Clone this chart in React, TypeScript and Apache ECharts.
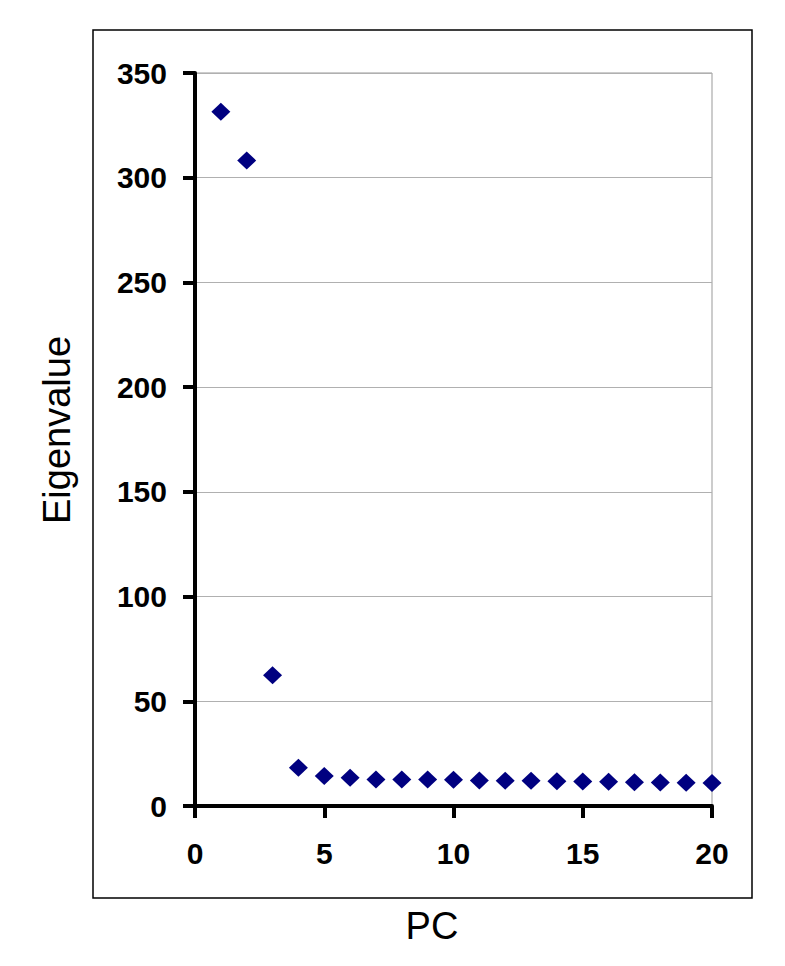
import React, { useEffect, useRef } from "react";
import * as echarts from "echarts";

const pcs = [1, 2, 3, 4, 5, 6, 7, 8, 9, 10, 11, 12, 13, 14, 15, 16, 17, 18, 19, 20];
const eigenvalues = [331.5, 308.2, 62.4, 18.3, 14.3, 13.5, 12.7, 12.7, 12.6, 12.5, 12.2, 12.1, 12.0, 11.8, 11.7, 11.6, 11.3, 11.2, 11.1, 11.0];
const xTitle = "PC";
const yTitle = "Eigenvalue";

const FONT = "'Liberation Sans', Arial, sans-serif";

export default function App() {
  const ref = useRef<HTMLDivElement>(null);
  useEffect(() => {
    if (!ref.current) return;
    const chart = echarts.init(ref.current, undefined, { renderer: "svg" });
    chart.setOption({
      animation: false,
      backgroundColor: "#ffffff",
      grid: {
        left: 195,
        top: 73,
        right: 73,
        bottom: 160,
        show: true,
        borderColor: "#999999",
        borderWidth: 1,
        containLabel: false,
      },
      xAxis: {
        type: "value",
        min: 0,
        max: 20,
        interval: 5,
        axisLine: { show: true, onZero: false, lineStyle: { color: "#000", width: 4 } },
        axisTick: { show: true, length: 12, lineStyle: { color: "#000", width: 4 } },
        axisLabel: { color: "#000", fontSize: 30, fontWeight: "bold", fontFamily: FONT, margin: 32 },
        splitLine: { show: false },
      },
      yAxis: {
        type: "value",
        min: 0,
        max: 350,
        interval: 50,
        axisLine: { show: true, onZero: false, lineStyle: { color: "#000", width: 4 } },
        axisTick: { show: true, length: 12, lineStyle: { color: "#000", width: 4 } },
        axisLabel: { color: "#000", fontSize: 30, fontWeight: "bold", fontFamily: FONT, margin: 28 },
        splitLine: { show: true, lineStyle: { color: "#b0b0b0", width: 1 } },
      },
      series: [
        {
          type: "scatter",
          data: pcs.map((p, i) => [p, eigenvalues[i]]),
          symbol: "diamond",
          symbolSize: [19, 18],
          itemStyle: { color: "#000080", opacity: 1 },
          clip: false,
        },
      ],
      graphic: [
        {
          type: "rect",
          shape: { x: 93, y: 30, width: 659, height: 868 },
          style: { fill: "none", stroke: "#000", lineWidth: 1.5 },
          z: -1,
        },
        {
          type: "text",
          x: 432,
          y: 926,
          style: {
            text: xTitle,
            fontSize: 38,
            fontFamily: FONT,
            fill: "#000",
            textAlign: "center",
            textVerticalAlign: "middle",
          },
        },
        {
          type: "text",
          x: 57,
          y: 430,
          rotation: Math.PI / 2,
          style: {
            text: yTitle,
            fontSize: 38,
            fontFamily: FONT,
            fill: "#000",
            textAlign: "center",
            textVerticalAlign: "middle",
          },
        },
      ],
    });
    return () => chart.dispose();
  }, []);
  return (
    <div
      ref={ref}
      style={{ position: "absolute", left: 0, top: 0, width: 785, height: 966 }}
    />
  );
}
